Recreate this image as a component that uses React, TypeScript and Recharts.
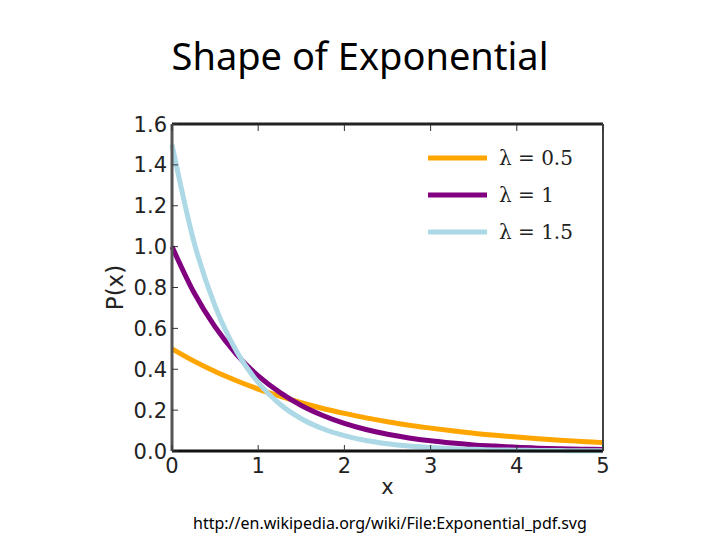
import { LineChart, Line, XAxis, YAxis, Legend } from 'recharts';

// values
const xValues = [0, 0.25, 0.5, 0.75, 1, 1.25, 1.5, 1.75, 2, 2.25, 2.5, 2.75, 3, 3.25, 3.5, 3.75, 4, 4.25, 4.5, 4.75, 5];
const lambdaHalf = [0.5, 0.441, 0.389, 0.344, 0.303, 0.268, 0.236, 0.208, 0.184, 0.162, 0.143, 0.126, 0.112, 0.099, 0.087, 0.077, 0.068, 0.06, 0.053, 0.047, 0.041];
const lambdaOne = [1.0, 0.779, 0.607, 0.472, 0.368, 0.287, 0.223, 0.174, 0.135, 0.105, 0.082, 0.064, 0.05, 0.039, 0.03, 0.024, 0.018, 0.014, 0.011, 0.009, 0.007];
const lambdaOneHalf = [1.5, 1.031, 0.709, 0.487, 0.335, 0.23, 0.158, 0.109, 0.075, 0.051, 0.035, 0.024, 0.017, 0.011, 0.008, 0.005, 0.004, 0.003, 0.002, 0.001, 0.001];

const xTicks = [0, 1, 2, 3, 4, 5];
const yTicks = [0, 0.2, 0.4, 0.6, 0.8, 1.0, 1.2, 1.4, 1.6];

const seriesNames = ['λ = 0.5', 'λ = 1', 'λ = 1.5'];

const chartData = xValues.map((x, i) => ({
  x,
  half: lambdaHalf[i],
  one: lambdaOne[i],
  oneHalf: lambdaOneHalf[i],
}));

const tickFont = { fontFamily: 'DejaVu Sans', fontSize: 21, fill: '#222' };

const LeftTick = ({ x, y, payload }: any) => {
  const ax = x + 5;
  return (
    <g>
      <line x1={ax} x2={ax + 6} y1={y} y2={y} stroke="#333" strokeWidth={1} />
      <text x={x} y={y} dy={7.5} textAnchor="end" {...tickFont}>
        {Number(payload.value).toFixed(1)}
      </text>
    </g>
  );
};

const BottomTick = ({ x, y, payload }: any) => {
  const ay = y - 4;
  return (
    <g>
      <line x1={x} x2={x} y1={ay} y2={ay - 6} stroke="#333" strokeWidth={1} />
      <text x={x} y={y + 18} textAnchor="middle" {...tickFont}>
        {payload.value}
      </text>
    </g>
  );
};

const TopTick = ({ x, y }: any) => (
  <line x1={x} x2={x} y1={y + 1} y2={y + 7} stroke="#333" strokeWidth={1} />
);

const RightTick = ({ x, y }: any) => (
  <line x1={x - 1} x2={x - 7} y1={y} y2={y} stroke="#333" strokeWidth={1} />
);

const LegendBox = ({ payload }: any) => (
  <div>
    {(payload || []).map((entry: any) => (
      <div key={entry.value} style={{ display: 'flex', alignItems: 'center', height: 37 }}>
        <svg width={59} height={8} style={{ display: 'block' }}>
          <line x1={0} x2={59} y1={4} y2={4} stroke={entry.color} strokeWidth={5} />
        </svg>
        <span
          style={{
            marginLeft: 12,
            fontFamily: 'DejaVu Serif',
            fontSize: 20,
            color: '#222',
            whiteSpace: 'nowrap',
          }}
        >
          {entry.value}
        </span>
      </div>
    ))}
  </div>
);

const PLabel = ({ viewBox }: any) => {
  const cx = viewBox.x + 3;
  const cy = viewBox.y + viewBox.height / 2;
  return (
    <text
      x={cx}
      y={cy}
      dy={8}
      textAnchor="middle"
      transform={`rotate(-90 ${cx} ${cy})`}
      fontFamily="DejaVu Sans"
      fontSize={23}
      fill="#222"
    >
      P(x)
    </text>
  );
};

export default function App() {
  return (
    <div
      style={{
        position: 'absolute',
        left: 0,
        top: 0,
        width: 720,
        height: 540,
        background: '#fff',
      }}
    >
      <div
        style={{
          position: 'absolute',
          left: 0,
          top: 31,
          width: 720,
          textAlign: 'center',
          fontFamily: 'Noto Sans',
          fontSize: 38,
          lineHeight: '48px',
          color: '#000',
        }}
      >
        Shape of Exponential
      </div>

      <LineChart
        width={720}
        height={540}
        data={chartData}
        margin={{ top: 123, right: 116, left: 112, bottom: 43 }}
      >
        <XAxis
          dataKey="x"
          type="number"
          domain={[0, 5]}
          ticks={xTicks}
          interval={0}
          height={46}
          tickSize={0}
          tickMargin={4}
          axisLine={{ stroke: '#111', strokeWidth: 3 }}
          tick={<BottomTick />}
          label={{ value: 'x', position: 'insideBottom', offset: 3, ...tickFont }}
        />
        <XAxis
          xAxisId="top"
          orientation="top"
          dataKey="x"
          type="number"
          domain={[0, 5]}
          ticks={xTicks}
          interval={0}
          height={1}
          tickSize={0}
          tickMargin={0}
          axisLine={{ stroke: '#222', strokeWidth: 3 }}
          tick={<TopTick />}
        />
        <YAxis
          type="number"
          domain={[0, 1.6]}
          ticks={yTicks}
          interval={0}
          width={60}
          tickSize={0}
          tickMargin={5}
          axisLine={{ stroke: '#555', strokeWidth: 3 }}
          tick={<LeftTick />}
          label={{ value: 'P(x)', content: <PLabel /> }}
        />
        <YAxis
          yAxisId="right"
          orientation="right"
          type="number"
          domain={[0, 1.6]}
          ticks={yTicks}
          interval={0}
          width={1}
          tickSize={0}
          tickMargin={0}
          axisLine={{ stroke: '#444', strokeWidth: 2 }}
          tick={<RightTick />}
        />
        <Legend
          layout="vertical"
          verticalAlign="middle"
          align="center"
          content={<LegendBox />}
          wrapperStyle={{ top: 139, left: 428, width: 'auto' }}
        />
        <Line
          type="monotone"
          dataKey="half"
          name={seriesNames[0]}
          stroke="#FFA500"
          strokeWidth={5}
          dot={false}
          isAnimationActive={false}
        />
        <Line
          type="monotone"
          dataKey="one"
          name={seriesNames[1]}
          stroke="#800080"
          strokeWidth={5}
          dot={false}
          isAnimationActive={false}
        />
        <Line
          type="monotone"
          dataKey="oneHalf"
          name={seriesNames[2]}
          stroke="#ADD8E6"
          strokeWidth={5}
          dot={false}
          isAnimationActive={false}
        />
      </LineChart>

      <div
        style={{
          position: 'absolute',
          left: 193,
          top: 513,
          fontFamily: 'Noto Sans',
          fontSize: 16,
          lineHeight: '20px',
          color: '#000',
          whiteSpace: 'nowrap',
        }}
      >
        http://en.wikipedia.org/wiki/File:Exponential_pdf.svg
      </div>
    </div>
  );
}
